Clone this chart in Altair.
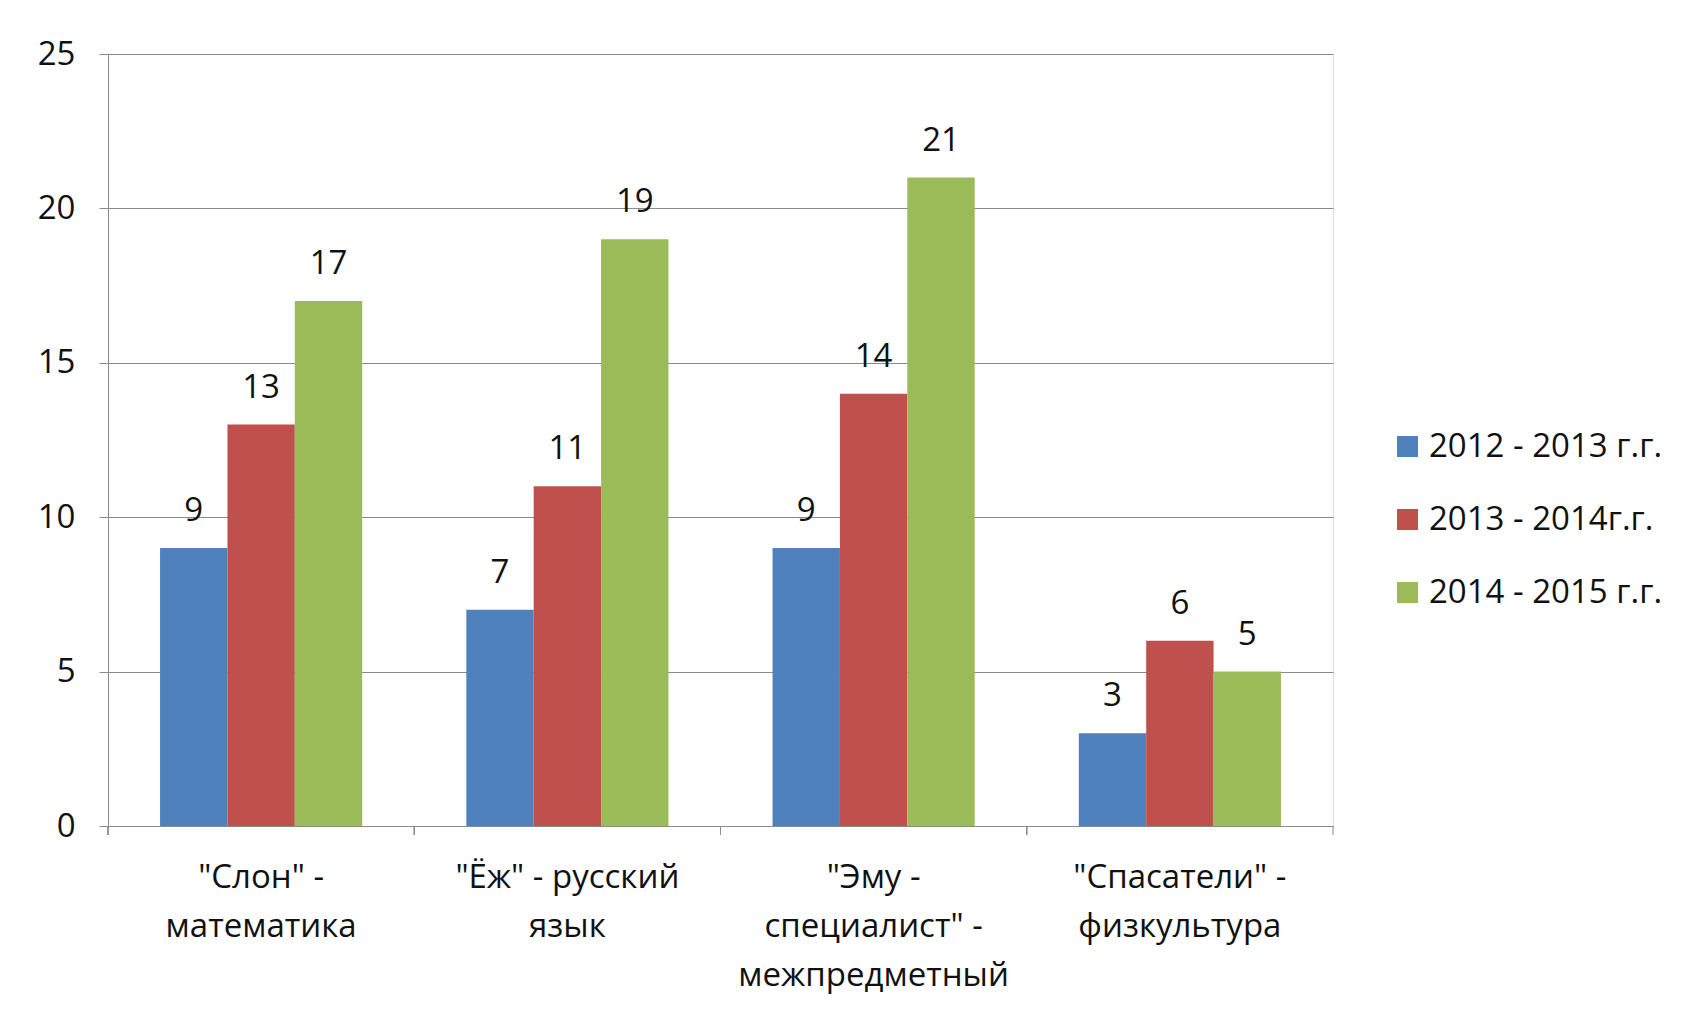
import altair as alt
import pandas as pd

categories = ['"Слон" -\nматематика', '"Ёж" - русский\nязык',
              '"Эму -\nспециалист" -\nмежпредметный', '"Спасатели" -\nфизкультура']
series = ["2012 - 2013 г.г.", "2013 - 2014г.г.", "2014 - 2015 г.г."]
values_2012 = [9, 7, 9, 3]
values_2013 = [13, 11, 14, 6]
values_2014 = [17, 19, 21, 5]
colors = ["#4F81BD", "#C0504D", "#9BBB59"]

rows = []
for s, vals in zip(series, [values_2012, values_2013, values_2014]):
    for c, v in zip(categories, vals):
        rows.append({"cat": c, "series": s, "value": v})
df = pd.DataFrame(rows)

FONT = "Open Sans"
W, H = 1225, 772
GRAY = "#8a8a8a"
STEP = W / 4.0
OUTER = 0.17

xscale = alt.Scale(paddingInner=0.34, paddingOuter=OUTER)
x = alt.X("cat:N", sort=categories, scale=xscale,
          axis=alt.Axis(title=None, ticks=False, labelAngle=0, domainColor=GRAY,
                        labelFont=FONT, labelFontSize=33, labelColor="#111",
                        labelLineHeight=49, labelPadding=35, labelLimit=400,
                        labelExpr="split(datum.label, '\\n')"))
xo = alt.XOffset("series:N", sort=series, scale=alt.Scale(paddingInner=0, paddingOuter=0))
y = alt.Y("value:Q", scale=alt.Scale(domain=[0, 25], nice=False),
          axis=alt.Axis(title=None, values=[0, 5, 10, 15, 20, 25], grid=True,
                        gridColor=GRAY, domainColor=GRAY, tickColor=GRAY, tickSize=9,
                        labelFont=FONT, labelFontSize=33, labelColor="#111",
                        labelPadding=24))

base = alt.Chart(df)
bars = base.mark_bar().encode(
    x=x, xOffset=xo, y=y,
    color=alt.Color("series:N", sort=series,
                    scale=alt.Scale(domain=series, range=colors),
                    legend=alt.Legend(title=None, orient="none", legendX=1283, legendY=376,
                                      symbolType="square", symbolSize=440,
                                      symbolStrokeWidth=0, labelFont=FONT,
                                      labelFontSize=33, labelColor="#111",
                                      labelLimit=400,
                                      rowPadding=39, labelOffset=5)),
)
labels = base.mark_text(baseline="alphabetic", dy=-27, font=FONT, fontSize=33,
                        color="#111").encode(
    x=alt.X("cat:N", sort=categories), xOffset=xo, y="value:Q", text="value:Q")

ticks = base.mark_rule(color=GRAY, xOffset=-OUTER * STEP).encode(
    x=alt.X("cat:N", sort=categories, bandPosition=0),
    y=alt.value(H), y2=alt.value(H + 9))
last_tick = alt.Chart(alt.Data(values=[{}])).mark_rule(color=GRAY).encode(
    x=alt.value(W), y=alt.value(H), y2=alt.value(H + 9))

chart = alt.layer(bars, labels, ticks, last_tick).properties(
    width=W, height=H,
    autosize=alt.AutoSizeParams(type="none"),
    padding={"left": 100, "top": 46, "right": 350, "bottom": 180},
).configure_view(stroke=None).configure(background="white")

chart.save("out.html", embed_options={"renderer": "svg", "actions": False})
